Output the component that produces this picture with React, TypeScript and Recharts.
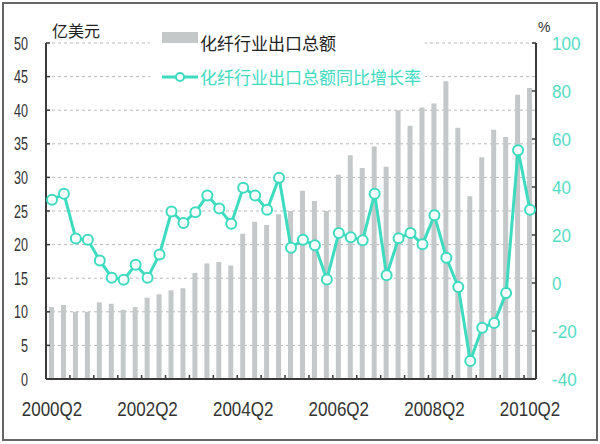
import { ComposedChart, Bar, Line, XAxis, YAxis, CartesianGrid, Legend } from 'recharts'

// 2000Q2 .. 2010Q2
const quarters = [
  '2000Q2', '2000Q3', '2000Q4', '2001Q1', '2001Q2', '2001Q3', '2001Q4', '2002Q1',
  '2002Q2', '2002Q3', '2002Q4', '2003Q1', '2003Q2', '2003Q3', '2003Q4', '2004Q1',
  '2004Q2', '2004Q3', '2004Q4', '2005Q1', '2005Q2', '2005Q3', '2005Q4', '2006Q1',
  '2006Q2', '2006Q3', '2006Q4', '2007Q1', '2007Q2', '2007Q3', '2007Q4', '2008Q1',
  '2008Q2', '2008Q3', '2008Q4', '2009Q1', '2009Q2', '2009Q3', '2009Q4', '2010Q1',
  '2010Q2',
]

// 化纤行业出口总额 (亿美元)
const exportValue = [
  10.7, 11.0, 10.0, 10.0, 11.4, 11.2, 10.3, 10.7, 12.1, 12.6,
  13.2, 13.5, 15.8, 17.2, 17.4, 16.9, 21.6, 23.4, 22.9, 24.5,
  25.0, 28.0, 26.5, 25.0, 30.4, 33.3, 31.4, 34.6, 31.6, 40.0,
  37.7, 40.4, 41.0, 44.3, 37.4, 27.2, 33.0, 37.1, 36.0, 42.3, 43.3,
]

// 同比增长率 (%)
const growthRate = [
  34.7, 37.2, 18.5, 18.0, 9.4, 2.2, 1.4, 7.6, 2.2, 11.9,
  29.8, 25.0, 29.5, 36.5, 31.0, 24.7, 39.7, 36.5, 30.5, 43.9,
  14.7, 18.0, 15.7, 1.5, 20.8, 19.1, 17.8, 37.2, 3.2, 18.6,
  20.8, 16.1, 28.2, 10.5, -1.7, -32.5, -18.6, -16.7, -4.2, 55.3, 30.5,
]

const leftTicks = [0, 5, 10, 15, 20, 25, 30, 35, 40, 45, 50]
const rightTicks = [-40, -20, 0, 20, 40, 60, 80, 100]
const xLabels = ['2000Q2', '2002Q2', '2004Q2', '2006Q2', '2008Q2', '2010Q2']

const data = quarters.map((q, i) => ({ q, value: exportValue[i], rate: growthRate[i] }))

const TEAL = '#3ddbbf'
const BAR = '#c4c8c8'
const AXIS = '#3a3a3a'
const NARROW = '"Liberation Sans Narrow", "Arial Narrow", sans-serif'
const CJK = '"Noto Sans CJK SC", sans-serif'

// every quarter gets a tick slot: short inner marks between every 2 bars, a label on the listed quarters
function QuarterTick({ x, y, index, payload }: any) {
  const showLabel = xLabels.includes(payload.value)
  return (
    <g>
      {index % 2 === 1 && (
        <line x1={x + 6} x2={x + 6} y1={y} y2={y - 4} stroke={AXIS} strokeWidth={1.5} />
      )}
      {showLabel && (
        <text
          transform={`translate(${x},${y + 37}) scale(0.85,1)`}
          textAnchor="middle"
          fontSize={20}
          fontFamily={NARROW}
          fill="#333"
        >
          {payload.value}
        </text>
      )}
    </g>
  )
}

function LeftTick({ x, y, payload }: any) {
  return (
    <g>
      <line x1={x} x2={x + 4} y1={y} y2={y} stroke={AXIS} strokeWidth={1.5} />
      <text
        transform={`translate(${x - 18},${y + 6.5}) scale(0.7,1)`}
        textAnchor="end"
        fontSize={18}
        fontFamily={NARROW}
        fill="#333"
      >
        {payload.value}
      </text>
    </g>
  )
}

function RightTick({ x, y, payload }: any) {
  return (
    <g>
      <line x1={x - 4} x2={x} y1={y} y2={y} stroke={AXIS} strokeWidth={1.5} />
      <text
        transform={`translate(${x + 16},${y + 6.5}) scale(0.95,1)`}
        textAnchor="start"
        fontSize={18}
        fontFamily={NARROW}
        fill="#55dcc4"
      >
        {payload.value}
      </text>
    </g>
  )
}

function LegendBox() {
  return (
    <div style={{ position: 'relative', width: 275, height: 62, background: '#fff', fontFamily: CJK }}>
      <div style={{ position: 'absolute', left: 12, top: 4, width: 36, height: 11, background: BAR }} />
      <div style={{ position: 'absolute', left: 50, top: 5, fontSize: 17, lineHeight: '20px', color: '#222' }}>
        化纤行业出口总额
      </div>
      <svg style={{ position: 'absolute', left: 12, top: 43 }} width={36} height={12}>
        <line x1={0} x2={36} y1={6} y2={6} stroke={TEAL} strokeWidth={3} />
        <circle cx={18} cy={6} r={4} fill="#fff" stroke={TEAL} strokeWidth={2} />
      </svg>
      <div style={{ position: 'absolute', left: 50, top: 39, fontSize: 17, lineHeight: '20px', color: TEAL }}>
        化纤行业出口总额同比增长率
      </div>
    </div>
  )
}

export default function App() {
  return (
    <div style={{ position: 'absolute', left: 0, top: 0, width: 600, height: 444, background: '#fff' }}>
      <ComposedChart width={600} height={444} data={data} margin={{ top: 43, right: 0, left: 0, bottom: 35 }}>
        <CartesianGrid yAxisId="left" vertical={false} stroke="#b8b8b8" strokeDasharray="3 3" />
        <XAxis
          dataKey="q"
          interval={0}
          height={30}
          tickLine={false}
          tickSize={0}
          tickMargin={0}
          tick={QuarterTick}
          stroke={AXIS}
          axisLine={{ stroke: AXIS, strokeWidth: 2 }}
        />
        <YAxis
          yAxisId="left"
          domain={[0, 50]}
          ticks={leftTicks}
          interval={0}
          width={46}
          tickLine={false}
          tickSize={0}
          tickMargin={0}
          tick={LeftTick}
          stroke={AXIS}
          axisLine={{ stroke: AXIS, strokeWidth: 2 }}
        />
        <YAxis
          yAxisId="right"
          orientation="right"
          domain={[-40, 100]}
          ticks={rightTicks}
          interval={0}
          width={64}
          tickLine={false}
          tickSize={0}
          tickMargin={0}
          tick={RightTick}
          stroke={AXIS}
          axisLine={{ stroke: AXIS, strokeWidth: 2 }}
        />
        <Legend
          layout="vertical"
          align="center"
          verticalAlign="middle"
          content={LegendBox}
          wrapperStyle={{ left: 150, top: 28, width: 275, height: 62 }}
        />
        <Bar yAxisId="left" dataKey="value" fill={BAR} barSize={5} isAnimationActive={false} />
        <Line
          yAxisId="right"
          dataKey="rate"
          type="linear"
          stroke={TEAL}
          strokeWidth={3}
          dot={{ r: 5, fill: '#fff', stroke: TEAL, strokeWidth: 2 }}
          isAnimationActive={false}
        />
      </ComposedChart>
      <div style={{ position: 'absolute', left: 52, top: 18, fontFamily: CJK, fontSize: 16, color: '#222' }}>
        亿美元
      </div>
      <div style={{ position: 'absolute', left: 538, top: 19, fontFamily: NARROW, fontSize: 14, color: '#333' }}>
        %
      </div>
      <div
        style={{
          position: 'absolute',
          left: 2,
          top: 2,
          width: 596,
          height: 439,
          border: '2px solid #666',
          boxSizing: 'border-box',
          pointerEvents: 'none',
        }}
      />
    </div>
  )
}
